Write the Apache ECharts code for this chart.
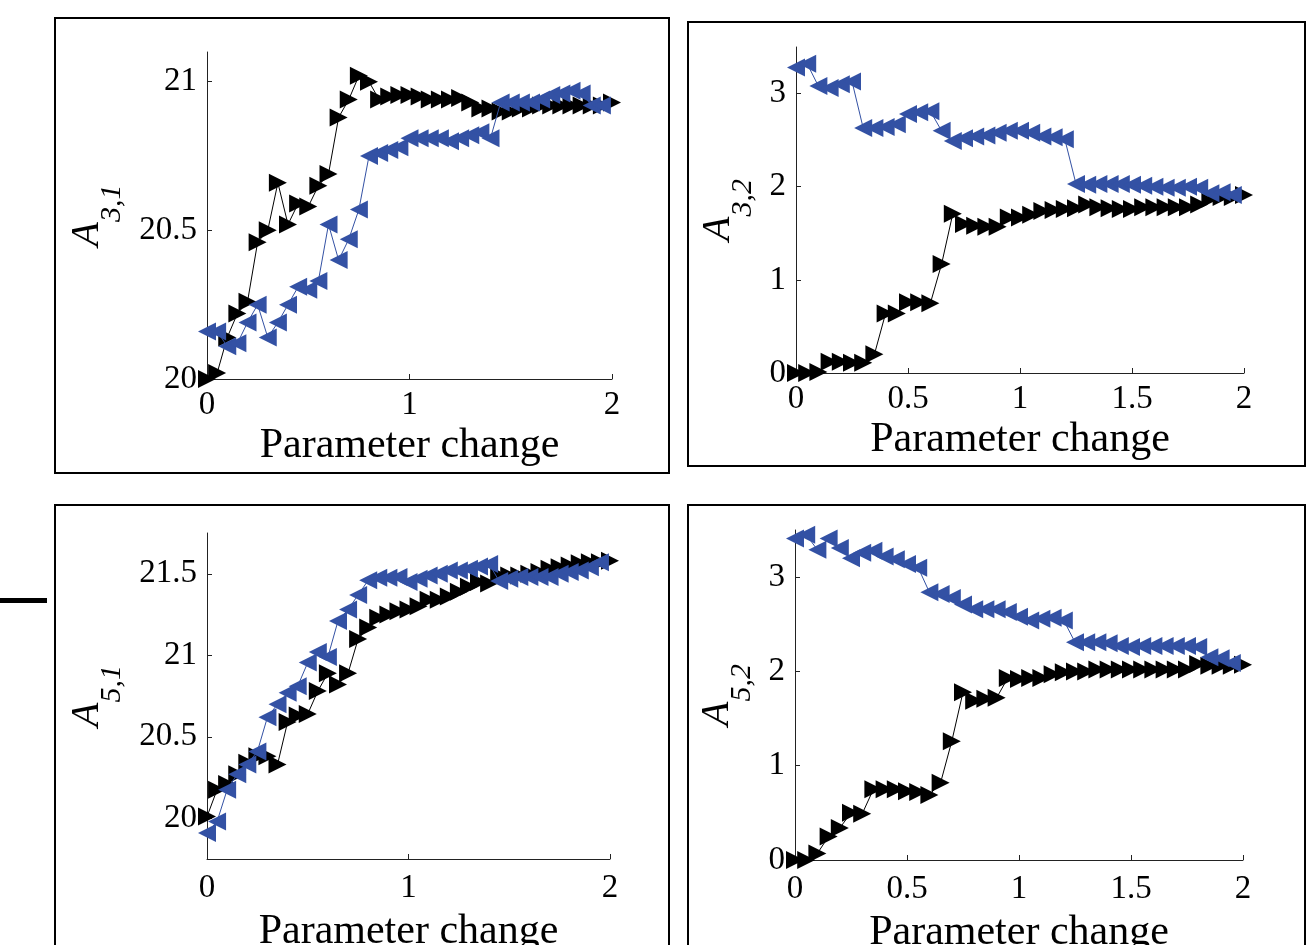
<!DOCTYPE html>
<html>
<head>
<meta charset="utf-8">
<script src="https://cdn.jsdelivr.net/npm/echarts@6/dist/echarts.min.js"></script>
<style>
html,body{margin:0;padding:0;background:#fff;}
#chart{width:1308px;height:945px;}
</style>
</head>
<body>
<div id="chart"></div>
<script>
// ---- data ----
const paramChange = [0,0.05,0.1,0.15,0.2,0.25,0.3,0.35,0.4,0.45,0.5,0.55,0.6,0.65,0.7,0.75,0.8,0.85,0.9,0.95,1,1.05,1.1,1.15,1.2,1.25,1.3,1.35,1.4,1.45,1.5,1.55,1.6,1.65,1.7,1.75,1.8,1.85,1.9,1.95,2];

const a31Forward = [20.0,20.02,20.14,20.22,20.26,20.46,20.5,20.66,20.52,20.59,20.58,20.65,20.69,20.88,20.94,21.02,21.0,20.94,20.95,20.955,20.955,20.95,20.94,20.94,20.94,20.945,20.93,20.91,20.91,20.9,20.9,20.91,20.91,20.92,20.92,20.92,20.92,20.92,20.92,20.92,20.93];
const a31Backward = [20.16,20.16,20.11,20.12,20.19,20.25,20.14,20.19,20.25,20.31,20.3,20.33,20.52,20.4,20.47,20.57,20.75,20.76,20.77,20.78,20.81,20.81,20.81,20.81,20.8,20.81,20.82,20.83,20.81,20.93,20.93,20.93,20.93,20.94,20.955,20.96,20.97,20.96,20.92,20.92];

const a32Forward = [0,0,0.01,0.12,0.12,0.11,0.11,0.2,0.64,0.64,0.76,0.76,0.75,1.17,1.71,1.6,1.58,1.57,1.57,1.67,1.67,1.7,1.74,1.75,1.76,1.77,1.81,1.78,1.77,1.76,1.76,1.78,1.78,1.78,1.78,1.78,1.81,1.87,1.89,1.89,1.91];
const a32Backward = [3.28,3.32,3.08,3.06,3.1,3.13,2.63,2.63,2.64,2.67,2.78,2.8,2.81,2.6,2.49,2.52,2.54,2.55,2.58,2.6,2.6,2.58,2.54,2.53,2.51,2.03,2.02,2.03,2.03,2.03,2.02,2.01,2.0,1.99,1.99,2.0,1.99,1.93,1.94,1.91];

const a51Forward = [20.01,20.175,20.21,20.27,20.34,20.38,20.38,20.33,20.59,20.63,20.64,20.78,20.89,20.82,20.89,21.1,21.17,21.23,21.25,21.27,21.28,21.3,21.34,21.34,21.36,21.39,21.42,21.45,21.44,21.49,21.49,21.49,21.5,21.51,21.53,21.54,21.55,21.565,21.57,21.57,21.58];
const a51Backward = [19.91,19.98,20.175,20.27,20.33,20.41,20.62,20.7,20.77,20.81,20.955,21.02,20.99,21.21,21.28,21.37,21.46,21.475,21.475,21.48,21.45,21.47,21.49,21.5,21.52,21.52,21.53,21.545,21.56,21.455,21.47,21.48,21.48,21.48,21.48,21.5,21.51,21.52,21.54,21.57];

const a52Forward = [0,0,0.07,0.25,0.34,0.5,0.49,0.75,0.75,0.75,0.73,0.72,0.69,0.82,1.26,1.78,1.69,1.71,1.72,1.93,1.92,1.93,1.93,1.97,1.99,2.0,2.0,2.02,2.02,2.02,2.02,2.02,2.02,2.02,2.02,2.02,2.08,2.06,2.06,2.06,2.07];
const a52Backward = [3.41,3.45,3.29,3.41,3.31,3.2,3.26,3.28,3.22,3.19,3.14,3.1,2.84,2.82,2.78,2.71,2.66,2.66,2.66,2.63,2.58,2.54,2.56,2.57,2.54,2.31,2.31,2.31,2.3,2.27,2.26,2.27,2.27,2.27,2.27,2.27,2.26,2.15,2.14,2.09];

const xTicksWide = [0,1,2];
const xTicksFine = [0,0.5,1,1.5,2];
const yTicksA31 = [20,20.5,21];
const yTicksA32 = [0,1,2,3];
const yTicksA51 = [20,20.5,21,21.5];
const yTicksA52 = [0,1,2,3];

const xName = 'Parameter change';
const yNames = [['A','3,1'],['A','3,2'],['A','5,1'],['A','5,2']];

// ---- styling ----
const FONT = 'Liberation Serif, Times New Roman, serif';
const BLACK = '#000000';
const BLUE = '#3351a4';

function pairs(ys){ return ys.map((v,i)=>[paramChange[i], v]); }

const grids = [
  {left:207, top:52, width:405, height:327},
  {left:796, top:47, width:448, height:326},
  {left:207, top:533, width:403, height:326},
  {left:795, top:530, width:448, height:330}
];
const yRanges = [[20,21.1],[0,3.5],[19.75,21.75],[0,3.5]];
const yTickSets = [yTicksA31, yTicksA32, yTicksA51, yTicksA52];
const xTickSets = [xTicksWide, xTicksFine, xTicksWide, xTicksFine];
const yNameGaps = [80, 38, 80, 38];
const xNameGaps = [46, 46, 52, 52];
const xLabelMargins = [10, 10, 13, 13];
const seriesData = [
  [a31Forward, a31Backward],
  [a32Forward, a32Backward],
  [a51Forward, a51Backward],
  [a52Forward, a52Backward]
];

const axisLineStyle = {color:'#222', width:1};

const xAxes = grids.map((g,i)=>({
  gridIndex:i, type:'value', min:0, max:2,
  name:xName, nameLocation:'middle', nameGap:xNameGaps[i],
  nameTextStyle:{fontFamily:FONT, fontSize:42, color:'#000'},
  axisLine:{show:true, onZero:false, lineStyle:axisLineStyle},
  axisTick:{show:true, inside:true, length:5, lineStyle:axisLineStyle, customValues:xTickSets[i]},
  axisLabel:{fontFamily:FONT, fontSize:33, color:'#000', margin:xLabelMargins[i], customValues:xTickSets[i]},
  splitLine:{show:false}
}));

const yAxes = grids.map((g,i)=>({
  gridIndex:i, type:'value', min:yRanges[i][0], max:yRanges[i][1],
  name:'{a|' + yNames[i][0] + '}{s|' + yNames[i][1] + '}',
  nameLocation:'middle', nameRotate:90, nameGap:yNameGaps[i],
  nameTextStyle:{
    fontFamily:FONT, color:'#000',
    rich:{
      a:{fontFamily:FONT, fontStyle:'italic', fontSize:40, color:'#000', verticalAlign:'top', padding:[0,0,20,0]},
      s:{fontFamily:FONT, fontStyle:'italic', fontSize:30, color:'#000', verticalAlign:'bottom'}
    }
  },
  axisLine:{show:true, onZero:false, lineStyle:axisLineStyle},
  axisTick:{show:true, inside:true, length:5, lineStyle:axisLineStyle, customValues:yTickSets[i]},
  axisLabel:{fontFamily:FONT, fontSize:33, color:'#000', margin:10, customValues:yTickSets[i]},
  splitLine:{show:false}
}));

const series = [];
seriesData.forEach((pair,i)=>{
  series.push({
    type:'line', xAxisIndex:i, yAxisIndex:i, data:pairs(pair[0]),
    symbol:'triangle', symbolSize:18, symbolRotate:-90, showAllSymbol:true,
    lineStyle:{color:BLACK, width:1}, itemStyle:{color:BLACK},
    clip:false, animation:false, z:2
  });
  series.push({
    type:'line', xAxisIndex:i, yAxisIndex:i, data:pairs(pair[1]),
    symbol:'triangle', symbolSize:18, symbolRotate:90, showAllSymbol:true,
    lineStyle:{color:BLUE, width:1}, itemStyle:{color:BLUE},
    clip:false, animation:false, z:3
  });
});

const boxes = [
  {x:55, y:18, w:614, h:455},
  {x:688, y:22, w:617, h:444},
  {x:55, y:505, w:614, h:470},
  {x:688, y:505, w:617, h:470}
];
const graphic = boxes.map(b=>({
  type:'rect', silent:true, z:0,
  shape:{x:b.x, y:b.y, width:b.w, height:b.h},
  style:{fill:'none', stroke:'#000', lineWidth:2}
}));
graphic.push({type:'rect', silent:true, shape:{x:0, y:598, width:47, height:5}, style:{fill:'#000'}});

const chart = echarts.init(document.getElementById('chart'), null, {renderer:'canvas'});
chart.setOption({
  animation:false,
  backgroundColor:'#fff',
  grid:grids.map(g=>Object.assign({containLabel:false, outerBoundsMode:'none'}, g)),
  xAxis:xAxes,
  yAxis:yAxes,
  series:series,
  graphic:graphic
});
</script>
</body>
</html>
